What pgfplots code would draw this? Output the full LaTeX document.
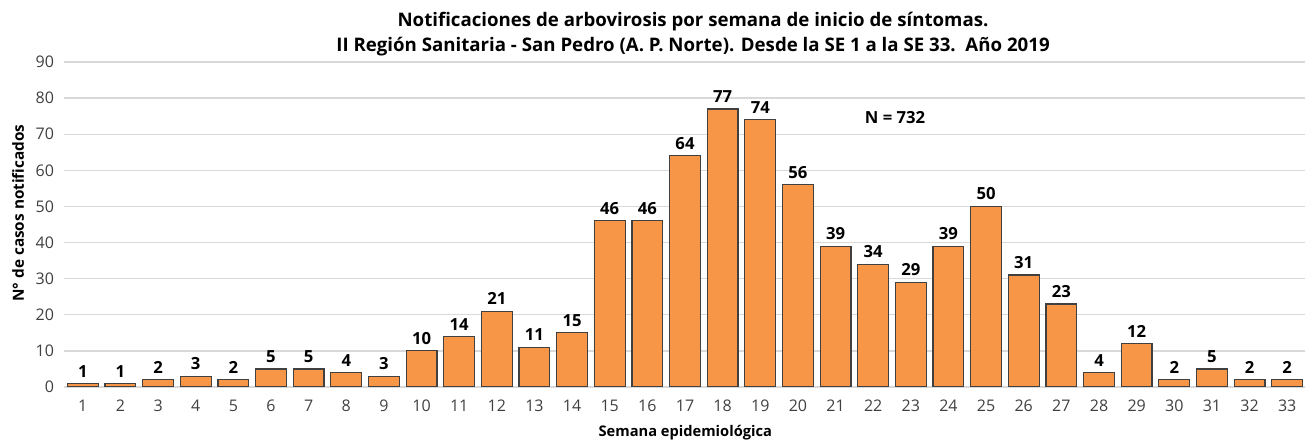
\documentclass[border=0pt]{standalone}
\usepackage{pgfplots}
\pgfplotsset{compat=1.18}
\usepackage{fontspec}
\setmainfont{Open Sans}
\definecolor{barorange}{HTML}{F79646}
\definecolor{bardark}{HTML}{404040}
\definecolor{gridgray}{HTML}{D9D9D9}
\definecolor{ticktext}{HTML}{404040}
\begin{document}
\begin{tikzpicture}
\path[use as bounding box] (0,0) rectangle (978.75pt,330.75pt);
\begin{axis}[
  at={(48pt,40.5pt)}, anchor=south west,
  scale only axis, width=931.5pt, height=243.75pt,
  xmin=0.5, xmax=33.5, ymin=0, ymax=90,
  ybar, bar width=0.82,
  xtick={1,...,33}, ytick={0,10,...,90},
  /pgf/number format/assume math mode=true,
  tick label style={font=\fontsize{12}{14}\selectfont, text=ticktext},
  xticklabel style={yshift=-6pt},
  yticklabel style={xshift=-4pt},
  major tick length=0pt,
  ymajorgrids, grid style={gridgray, line width=1pt},
  axis x line*=bottom, axis y line*=left,
  x axis line style={gridgray, line width=1pt},
  y axis line style={draw=none},
  nodes near coords,
  every node near coord/.append style={font=\fontsize{12.5}{14}\selectfont\bfseries, text=black, yshift=1pt},
]
\addplot[fill=barorange, draw=bardark, line width=0.9pt] coordinates {
(1,1) (2,1) (3,2) (4,3) (5,2) (6,5) (7,5) (8,4) (9,3) (10,10)
(11,14) (12,21) (13,11) (14,15) (15,46) (16,46) (17,64) (18,77) (19,74) (20,56)
(21,39) (22,34) (23,29) (24,39) (25,50) (26,31) (27,23) (28,4) (29,12) (30,2)
(31,5) (32,2) (33,2)};
\node[font=\fontsize{12.5}{14}\selectfont\bfseries] at (axis cs:22.58,74.5) {N = 732};
\end{axis}
\node[font=\fontsize{11.5}{13}\selectfont\bfseries, rotate=90] at (13.5pt,171pt) {N° de casos notificados};
\node[font=\fontsize{14}{19}\selectfont\bfseries, align=center] at (519.75pt,305pt)
  {Notificaciones de arbovirosis por semana de inicio de síntomas.\\
   II Región Sanitaria - San Pedro (A. P. Norte). Desde la SE 1 a la SE 33.\ \ Año 2019};
\node[font=\fontsize{11}{13}\selectfont\bfseries] at (514pt,6pt) {Semana epidemiológica};
\end{tikzpicture}
\end{document}
